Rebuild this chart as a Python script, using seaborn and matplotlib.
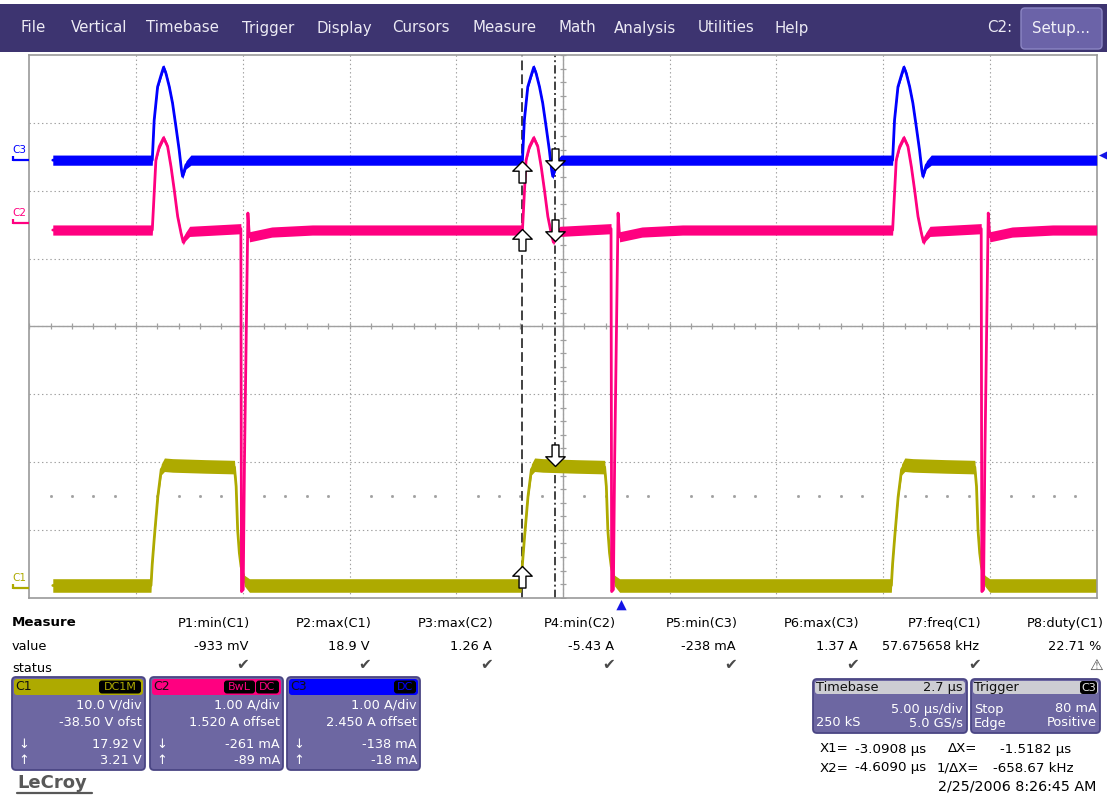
import numpy as np
import matplotlib
matplotlib.use("Agg")
import matplotlib.pyplot as plt
import seaborn as sns
from matplotlib.patches import Rectangle, FancyBboxPatch
from matplotlib.path import Path

# ---------------------------------------------------------------- acquisition settings
time_per_div = 5.0          # µs/div
time_delay = -2.7           # µs at the centre of the screen
n_hdiv, n_vdiv = 10, 8

c1_scale, c1_offset = 10.0, -38.50   # V/div, V
c2_scale, c2_offset = 1.00, 1.520    # A/div, A
c3_scale, c3_offset = 1.00, 2.450    # A/div, A

trigger_level = 0.080       # A on C3, positive edge
cursor_x1 = -3.0908         # µs
cursor_x2 = -4.6090         # µs

# ---------------------------------------------------------------- waveforms
record_start = -26.6                    # µs, first stored sample
pulse_starts = [-21.94, -4.60, 12.74]   # µs, start of each switching cycle

# C3: current pulse (A) against time from the start of a cycle (µs)
c3_tau    = [0.00, 0.09, 0.25, 0.41, 0.53, 0.64, 0.80, 0.95, 1.11, 1.26, 1.37, 1.42, 1.58, 1.81]
c3_amps   = [0.00, 0.59, 1.08, 1.25, 1.37, 1.28, 1.08, 0.84, 0.49, 0.15, -0.15, -0.238, -0.07, 0.00]
c3_spread = [0.075, 0.03, 0.03, 0.04, 0.04, 0.04, 0.03, 0.03, 0.03, 0.03, 0.04, 0.04, 0.06, 0.075]
c3_base, c3_base_spread = 0.00, 0.075

# C2: current with the reverse-recovery spike (A)
c2_tau    = [0.00, 0.05, 0.17, 0.33, 0.53, 0.72, 0.88, 1.03, 1.19, 1.35, 1.45, 1.55, 1.75,
             4.15, 4.18, 4.26, 4.32, 4.41, 4.48, 4.55, 5.60, 7.50]
c2_amps   = [-0.10, 0.20, 0.93, 1.13, 1.26, 1.13, 0.83, 0.49, 0.10, -0.15, -0.28, -0.20, -0.12,
             -0.08, -5.43, -5.40, -3.49, -1.45, 0.15, -0.20, -0.13, -0.10]
c2_spread = [0.075, 0.03, 0.03, 0.04, 0.04, 0.04, 0.03, 0.03, 0.03, 0.04, 0.04, 0.06, 0.075,
             0.075, 0.00, 0.00, 0.00, 0.00, 0.00, 0.075, 0.075, 0.075]
c2_base, c2_base_spread = -0.10, 0.075

# C1: switch-node voltage (V)
c1_tau    = [-0.06, 0.00, 0.10, 0.26, 0.42, 0.57, 0.95, 2.50, 3.85, 3.93, 4.00, 4.08, 4.16, 4.32, 4.55]
c1_volts  = [0.3, 3.5, 7.5, 13.4, 17.4, 18.1, 18.0, 17.85, 17.75, 14.9, 8.5, 5.1, 3.1, 1.0, 0.3]
c1_spread = [1.0, 0.4, 0.4, 0.5, 0.8, 1.0, 1.0, 1.0, 1.0, 0.5, 0.3, 0.3, 0.4, 0.8, 1.0]
c1_base, c1_base_spread = 0.3, 1.0

# cursor read-outs (value at X1 / value at X2)
c1_cursor = (17.92, 3.21)      # V
c2_cursor = (-0.261, -0.089)   # A
c3_cursor = (-0.138, -0.018)   # A

# measurement table
meas_names  = ["P1:min(C1)", "P2:max(C1)", "P3:max(C2)", "P4:min(C2)",
               "P5:min(C3)", "P6:max(C3)", "P7:freq(C1)", "P8:duty(C1)"]
meas_values = ["-933 mV", "18.9 V", "1.26 A", "-5.43 A",
               "-238 mA", "1.37 A", "57.675658 kHz", "22.71 %"]
meas_status = ["ok", "ok", "ok", "ok", "ok", "ok", "ok", "warn"]

menu_items = ["File", "Vertical", "Timebase", "Trigger", "Display", "Cursors",
              "Measure", "Math", "Analysis", "Utilities", "Help"]

# ---------------------------------------------------------------- styling
W, H = 1107, 796
C1_COL, C2_COL, C3_COL = "#AEAA00", "#FF0080", "#0000FF"
MENU_COL = "#3D3470"
PANEL_COL, PANEL_EDGE = "#6D67A2", "#4A4584"
GRID_COL = "#A0A0A0"

sns.set_theme(style="white")
plt.rcParams["font.family"] = ["DejaVu Sans"]
plt.rcParams["lines.scale_dashes"] = False

fig = plt.figure(figsize=(W / 100, H / 100), dpi=100)
fig.patch.set_facecolor("white")

# pixel-space overlay for the instrument chrome
ov = fig.add_axes([0, 0, 1, 1], zorder=0)
ov.set_xlim(0, W)
ov.set_ylim(H, 0)
ov.axis("off")

# screen graticule
left, top, right, bottom = 29.3, 55.0, 1096.7, 597.7
ax = fig.add_axes([left / W, (H - bottom) / H, (right - left) / W, (bottom - top) / H], zorder=1)
t_left = time_delay - time_per_div * n_hdiv / 2
t_right = time_delay + time_per_div * n_hdiv / 2


def to_div(v, scale, offset):
    return (np.asarray(v, float) + offset) / scale


def build(tau, vals, spread, base, base_spread):
    t, v, s = [record_start], [base], [base_spread]
    for st in pulse_starts:
        t.extend(st + np.asarray(tau, float))
        v.extend(vals)
        s.extend(spread)
    t.append(t_right)
    v.append(base)
    s.append(base_spread)
    return np.array(t), np.array(v, float), np.array(s, float)


traces = [
    ("C1", build(c1_tau, c1_volts, c1_spread, c1_base, c1_base_spread), c1_scale, c1_offset, C1_COL),
    ("C2", build(c2_tau, c2_amps, c2_spread, c2_base, c2_base_spread), c2_scale, c2_offset, C2_COL),
    ("C3", build(c3_tau, c3_amps, c3_spread, c3_base, c3_base_spread), c3_scale, c3_offset, C3_COL),
]

# graticule: dotted divisions, solid centre axes with fifth-division ticks
x_grid = [t_left + time_per_div * k for k in range(1, n_hdiv)]
y_grid = [k for k in range(-n_vdiv // 2 + 1, n_vdiv // 2)]
ax.set_xticks(x_grid)
ax.set_yticks(y_grid)
ax.tick_params(length=0, labelbottom=False, labelleft=False)
ax.grid(True, color=GRID_COL, lw=0.8, ls=(0, (1, 2)))
ax.axvline(time_delay, color=GRID_COL, lw=1.0, zorder=1)
ax.axhline(0, color=GRID_COL, lw=1.0, zorder=1)
fifth_t = np.arange(t_left, t_right + 1e-6, time_per_div / 5)
fifth_v = np.arange(-n_vdiv / 2, n_vdiv / 2 + 1e-6, 0.2)
ax.plot(fifth_t, np.zeros_like(fifth_t), ls="none", marker="|", ms=4.5, mew=0.9, color=GRID_COL, zorder=1)
ax.plot(np.full_like(fifth_v, time_delay), fifth_v, ls="none", marker="_", ms=4.5, mew=0.9, color=GRID_COL, zorder=1)
dots_t = [t for t in fifth_t if abs(((t - t_left) / time_per_div) - round((t - t_left) / time_per_div)) > 1e-6]
ax.plot(dots_t, np.full(len(dots_t), -2.5), ls="none", marker="s", ms=1.0, color=GRID_COL, zorder=1)
for sp in ax.spines.values():
    sp.set_color("#9A9A9A")
    sp.set_linewidth(1.2)

# cursors
ax.axvline(cursor_x2, color="#333333", lw=1.3, ls=(0, (7, 3)), zorder=1.5)
ax.axvline(cursor_x1, color="#333333", lw=1.3, ls=(0, (6, 2.2, 1.4, 2.2)), zorder=1.5)

# traces
for i, (name, (t, v, s), scale, offset, col) in enumerate(traces):
    vd, sd = to_div(v, scale, offset), s / scale
    z = 2 + i
    ax.fill_between(t, vd - sd, vd + sd, color=col, lw=0, zorder=z)
    sns.lineplot(x=t, y=vd, ax=ax, color=col, lw=2.0, sort=False, estimator=None, zorder=z + 0.1)

ax.set_xlim(t_left, t_right)
ax.set_ylim(-n_vdiv / 2, n_vdiv / 2)
ax.set_xlabel("")
ax.set_ylabel("")

# cursor arrows (tip at the value read by each cursor)
up_arrow = Path([(0, 0), (0.45, -0.45), (0.16, -0.45), (0.16, -1.0), (-0.16, -1.0),
                 (-0.16, -0.45), (-0.45, -0.45), (0, 0)], closed=True)
down_arrow = Path([(x, -y) for x, y in up_arrow.vertices], closed=True)
x1_vals = [to_div(c1_cursor[0], c1_scale, c1_offset), to_div(c2_cursor[0], c2_scale, c2_offset),
           to_div(c3_cursor[0], c3_scale, c3_offset)]
x2_vals = [to_div(c1_cursor[1], c1_scale, c1_offset), to_div(c2_cursor[1], c2_scale, c2_offset),
           to_div(c3_cursor[1], c3_scale, c3_offset)]
ax.plot([cursor_x1] * 3, x1_vals, ls="none", marker=down_arrow, ms=31, mfc="white", mec="black", mew=1.0, zorder=8)
ax.plot([cursor_x2] * 3, x2_vals, ls="none", marker=up_arrow, ms=31, mfc="white", mec="black", mew=1.0, zorder=8)

# trigger position and level markers
tri_up = Path([(0, -0.15), (0.5, -1.15), (-0.5, -1.15), (0, -0.15)], closed=True)
tri_left = Path([(0.15, 0), (1.15, 0.5), (1.15, -0.5), (0.15, 0)], closed=True)
ax.plot([0.0], [-n_vdiv / 2], marker=tri_up, ms=17, color="#1414E6", mew=0, clip_on=False, zorder=9)
ax.plot([t_right], [to_div(trigger_level, c3_scale, c3_offset)], marker=tri_left, ms=17,
        color="#1414E6", mew=0, clip_on=False, zorder=9)

# channel ground markers and labels on the left edge
lvl_mark = Path([(0, 0), (-1.0, 0), (-1.0, 0.28), (-1.0, -0.08)],
                [Path.MOVETO, Path.LINETO, Path.MOVETO, Path.LINETO])
for name, _, scale, offset, col in traces:
    lvl = to_div(0.0, scale, offset)
    ax.plot([t_left], [lvl], marker=lvl_mark, ms=23, mfc="none", mec=col, mew=1.6, clip_on=False, zorder=9)
    ax.annotate(name, xy=(t_left, lvl), xytext=(-10, 10), textcoords="offset pixels",
                ha="center", va="center", fontsize=7.5, color=col, annotation_clip=False)

# ---------------------------------------------------------------- menu bar
ov.add_patch(Rectangle((0, 4), W, 48, color=MENU_COL, lw=0))
menu_x = [21, 71, 146, 242, 317, 392, 473, 559, 614, 698, 774]
for name, x in zip(menu_items, menu_x):
    ov.text(x, 28, name, ha="left", va="center", fontsize=10.8, color="#ECEAF4")
ov.text(987, 28, "C2:", ha="left", va="center", fontsize=10.8, color="#ECEAF4")
ov.add_patch(FancyBboxPatch((1021, 8), 81, 41, boxstyle="round,pad=0,rounding_size=4",
                            fc="#6B63A8", ec="#8C86C4", lw=1.0))
ov.text(1061, 28, "Setup...", ha="center", va="center", fontsize=10.8, color="#F2F2F8")

# ---------------------------------------------------------------- measurement table
FS = 9.3
ov.text(12, 623, "Measure", ha="left", va="center", fontsize=9.6, fontweight="bold", color="black")
ov.text(12, 646, "value", ha="left", va="center", fontsize=FS, color="black")
ov.text(12, 668, "status", ha="left", va="center", fontsize=FS, color="black")
for i, (nm, val, st) in enumerate(zip(meas_names, meas_values, meas_status)):
    xr = 250 + i * 121.9
    ov.text(xr, 623, nm, ha="right", va="center", fontsize=FS, color="black")
    ov.text(xr - 2, 646, val, ha="right", va="center", fontsize=FS, color="black")
    glyph = "\u2714" if st == "ok" else "\u26A0"
    ov.text(xr - 7, 665, glyph, ha="center", va="center", fontsize=11, color="#4A4A4A")


def panel(x, y, w, h):
    ov.add_patch(FancyBboxPatch((x, y), w, h, boxstyle="round,pad=0,rounding_size=4",
                                fc=PANEL_COL, ec=PANEL_EDGE, lw=1.3))


def bar(x, y, w, h, col):
    ov.add_patch(FancyBboxPatch((x, y), w, h, boxstyle="round,pad=0,rounding_size=3",
                                fc=col, ec="none"))


def badge(x, y, w, txt, col):
    ov.add_patch(FancyBboxPatch((x, y), w, 13, boxstyle="round,pad=0,rounding_size=3",
                                fc="black", ec="none"))
    ov.text(x + w / 2, y + 6.8, txt, ha="center", va="center", fontsize=8, color=col)


# channel descriptor boxes
chan_boxes = [
    ("C1", C1_COL, 12, ["10.0 V/div", "-38.50 V ofst", "17.92 V", "3.21 V"], [("DC1M", 42)]),
    ("C2", C2_COL, 150, ["1.00 A/div", "1.520 A offset", "-261 mA", "-89 mA"], [("BwL", 31), ("DC", 23)]),
    ("C3", C3_COL, 287, ["1.00 A/div", "2.450 A offset", "-138 mA", "-18 mA"], [("DC", 22)]),
]
for name, col, x0, lines, badges in chan_boxes:
    panel(x0, 677, 133, 93)
    bar(x0 + 2, 679, 129, 16, col)
    ov.text(x0 + 3, 687, name, ha="left", va="center", fontsize=9, color="#101010")
    bx = x0 + 130
    for txt, bw in reversed(badges):
        bx -= bw + 1
        badge(bx, 680.5, bw, txt, col)
    for txt, y in zip(lines, [705, 723, 745, 760]):
        ov.text(x0 + 130, y, txt, ha="right", va="center", fontsize=FS, color="white")
    ov.text(x0 + 6, 745, "\u2193", ha="left", va="center", fontsize=FS, color="white")
    ov.text(x0 + 6, 760, "\u2191", ha="left", va="center", fontsize=FS, color="white")

# timebase and trigger boxes
panel(813, 679, 154, 54)
bar(815, 681, 150, 13, "#CDCDD3")
ov.text(816, 687.5, "Timebase", ha="left", va="center", fontsize=FS, color="#101010")
ov.text(963, 687.5, "2.7 \u00b5s", ha="right", va="center", fontsize=FS, color="#101010")
ov.text(963, 709, "5.00 \u00b5s/div", ha="right", va="center", fontsize=FS, color="white")
ov.text(816, 723, "250 kS", ha="left", va="center", fontsize=FS, color="white")
ov.text(963, 723, "5.0 GS/s", ha="right", va="center", fontsize=FS, color="white")

panel(971, 679, 129, 54)
bar(973, 681, 125, 13, "#CDCDD3")
ov.text(974, 687.5, "Trigger", ha="left", va="center", fontsize=FS, color="#101010")
badge(1080, 681, 17, "C3", "#E8E8E8")
ov.text(974, 709, "Stop", ha="left", va="center", fontsize=FS, color="white")
ov.text(1097, 709, "80 mA", ha="right", va="center", fontsize=FS, color="white")
ov.text(974, 723, "Edge", ha="left", va="center", fontsize=FS, color="white")
ov.text(1097, 723, "Positive", ha="right", va="center", fontsize=FS, color="white")

# cursor read-out
FC = 9.6
ov.text(820, 749, "X1=", ha="left", va="center", fontsize=FC, color="black")
ov.text(855, 749, f"{cursor_x1:.4f} \u00b5s", ha="left", va="center", fontsize=FC, color="black")
ov.text(948, 749, "\u0394X=", ha="left", va="center", fontsize=FC, color="black")
ov.text(1000, 749, f"{cursor_x2 - cursor_x1:.4f} \u00b5s", ha="left", va="center", fontsize=FC, color="black")
ov.text(820, 768, "X2=", ha="left", va="center", fontsize=FC, color="black")
ov.text(855, 768, f"{cursor_x2:.4f} \u00b5s", ha="left", va="center", fontsize=FC, color="black")
ov.text(937, 768, "1/\u0394X=", ha="left", va="center", fontsize=FC, color="black")
ov.text(993, 768, "-658.67 kHz", ha="left", va="center", fontsize=FC, color="black")
ov.text(1096, 787, "2/25/2006 8:26:45 AM", ha="right", va="center", fontsize=10.3, color="black")

# logo
ov.text(17, 783, "LeCroy", ha="left", va="center", fontsize=13, fontweight="bold", color="#585858")
ov.plot([17, 92], [793, 793], color="#585858", lw=1.6)

fig.savefig("out.png", dpi=100, facecolor="white")
